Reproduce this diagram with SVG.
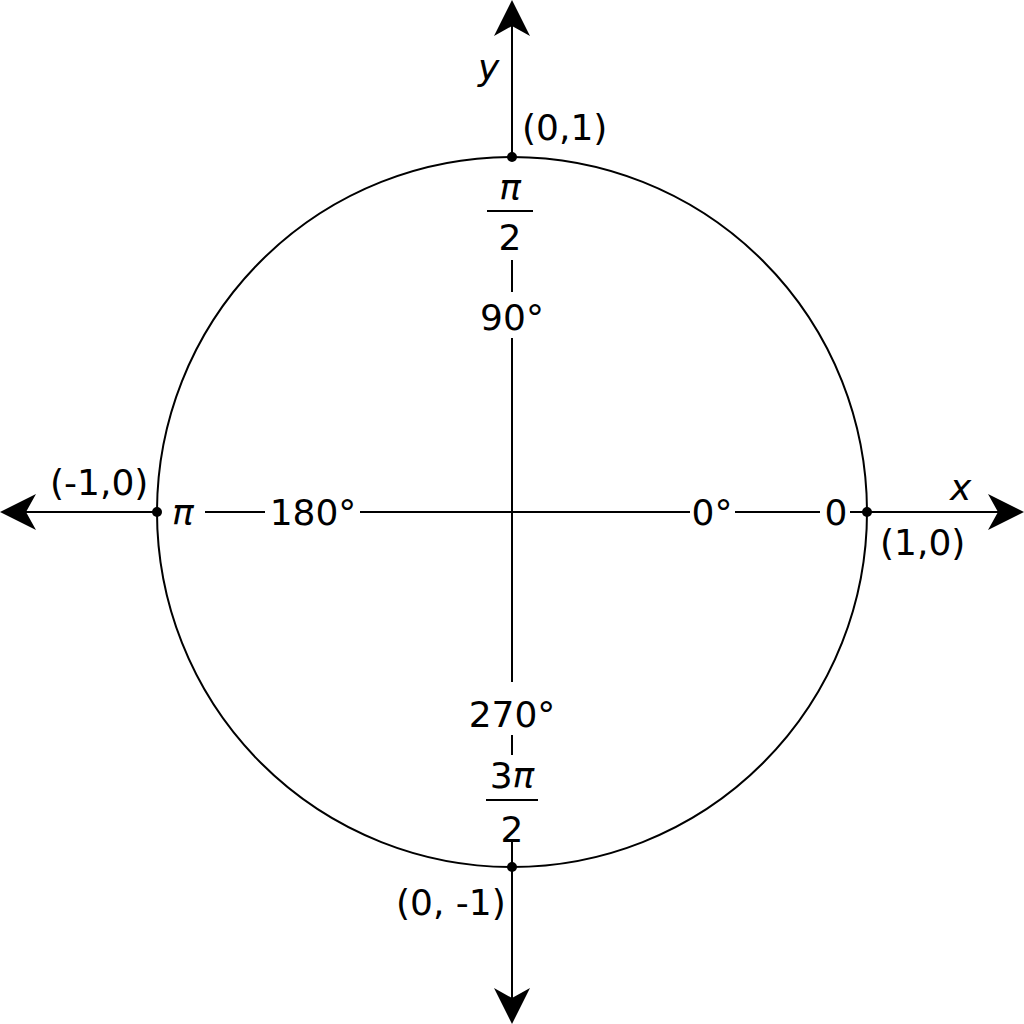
<svg xmlns="http://www.w3.org/2000/svg" width="1024" height="1024" viewBox="0 0 1024 1024">
<style>
.l{stroke:#000;stroke-width:2;fill:none}
text{font-family:"DejaVu Sans","Liberation Sans",sans-serif;font-size:36px;fill:#000}
.i{font-style:italic}
.m{text-anchor:middle}
</style>
<defs>
<path id="ah" d="M0,0 L-36,-18 L-26,0 L-36,18 Z" fill="#000"/>
</defs>
<rect width="1024" height="1024" fill="#fff"/>
<g id="connectors">
<circle class="l" cx="512" cy="512" r="355"/>
<path class="l" d="M512,20 V157 M512,260 V292 M512,338 V682 M512,735 V755 M512,842 V1005"/>
<path class="l" d="M20,512 H157 M205,512 H265 M360,512 H690 M735,512 H820 M850,512 H1005"/>
<use href="#ah" transform="translate(1024,512)"/>
<use href="#ah" transform="translate(0,512) rotate(180)"/>
<use href="#ah" transform="translate(512,0) rotate(-90)"/>
<use href="#ah" transform="translate(512,1024) rotate(90)"/>
</g>
<g id="points" fill="#000">
<circle cx="512" cy="157" r="5"/><circle cx="867" cy="512" r="5"/>
<circle cx="157" cy="512" r="5"/><circle cx="512" cy="867" r="5"/>
</g>
<g id="labels">
<text class="i" x="478" y="80">y</text>
<text class="i" x="950" y="500">x</text>
<text x="522" y="140">(0,1)</text>
<text x="880" y="555">(1,0)</text>
<text x="50" y="495">(-1,0)</text>
<text x="396" y="915">(0, -1)</text>
<text class="i m" x="510" y="200">π</text>
<path class="l" d="M487,211 H533"/>
<text class="m" x="510" y="250">2</text>
<text class="m" x="512" y="330">90°</text>
<text class="m" x="512" y="727">270°</text>
<text class="m" x="512" y="788">3<tspan class="i">π</tspan></text>
<path class="l" d="M486,800 H538"/>
<text class="m" x="512" y="842">2</text>
<text class="i" x="172" y="525">π</text>
<text class="m" x="313" y="525">180°</text>
<text class="m" x="712" y="525">0°</text>
<text class="m" x="836" y="525">0</text>
</g>
</svg>
